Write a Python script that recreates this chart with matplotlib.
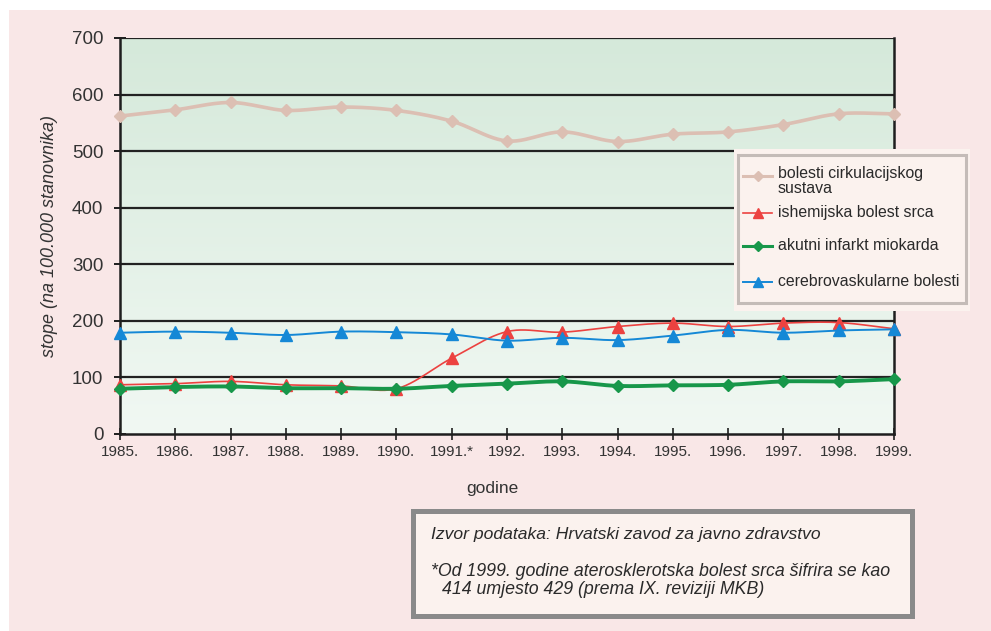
import numpy as np
import matplotlib
matplotlib.use("Agg")
import matplotlib.pyplot as plt
from matplotlib.patches import Rectangle
from matplotlib.lines import Line2D

# --- data -------------------------------------------------------------
years = ["1985.", "1986.", "1987.", "1988.", "1989.", "1990.", "1991.*",
         "1992.", "1993.", "1994.", "1995.", "1996.", "1997.", "1998.", "1999."]
circulatory = [562, 573, 586, 572, 578, 572, 553, 518, 534, 517, 530, 534, 547, 566, 566]
ischemic = [87, 89, 93, 87, 85, 80, 134, 181, 180, 190, 196, 190, 196, 197, 186]
acute_mi = [80, 83, 84, 81, 81, 80, 85, 89, 93, 85, 86, 87, 93, 93, 97]
cerebro = [179, 181, 179, 175, 181, 180, 176, 165, 170, 166, 174, 184, 179, 183, 185]

labels = ["bolesti cirkulacijskog\nsustava", "ishemijska bolest srca",
          "akutni infarkt miokarda", "cerebrovaskularne bolesti"]

W, H = 991, 631
FONT = "Liberation Sans"
plt.rcParams["font.family"] = [FONT, "DejaVu Sans"]


def smooth(x, y, n=24):
    """Catmull-Rom curve through the points (spreadsheet-style smoothed line)."""
    x = np.asarray(x, float)
    y = np.asarray(y, float)
    px = np.concatenate([[2 * x[0] - x[1]], x, [2 * x[-1] - x[-2]]])
    py = np.concatenate([[2 * y[0] - y[1]], y, [2 * y[-1] - y[-2]]])
    xs, ys = [], []
    t = np.linspace(0, 1, n, endpoint=False)
    for i in range(1, len(px) - 2):
        p0, p1, p2, p3 = (np.array([px[j], py[j]]) for j in range(i - 1, i + 3))
        tt = t[:, None]
        pts = 0.5 * ((2 * p1) + (-p0 + p2) * tt + (2 * p0 - 5 * p1 + 4 * p2 - p3) * tt ** 2
                     + (-p0 + 3 * p1 - 3 * p2 + p3) * tt ** 3)
        xs.extend(pts[:, 0])
        ys.extend(pts[:, 1])
    xs.append(x[-1])
    ys.append(y[-1])
    return np.array(xs), np.array(ys)


fig = plt.figure(figsize=(W / 100, H / 100), dpi=100)
fig.patch.set_facecolor("white")
fig.add_artist(Rectangle((9 / W, 0), 1 - 9 / W, 1 - 10 / H, transform=fig.transFigure,
                         facecolor="#f9e7e7", edgecolor="none", zorder=-10))

ax = fig.add_axes([120 / W, 1 - 434 / H, (894 - 120) / W, (434 - 38) / H])
ax.set_facecolor("none")

# green vertical gradient behind the plot
grad = np.linspace(0, 1, 256)[:, None]
top = np.array([0.835, 0.914, 0.855])
bot = np.array([0.945, 0.973, 0.953])
img = top[None, None, :] * (1 - grad[:, :, None]) + bot[None, None, :] * grad[:, :, None]
ax.imshow(img, extent=[0, 1, 0, 1], transform=ax.transAxes, aspect="auto",
          zorder=-5, interpolation="bilinear")

xpos = np.arange(len(years))
ax.set_xlim(0, len(years) - 1)
ax.set_ylim(0, 700)
ax.set_yticks(range(0, 701, 100))
ax.set_xticks(xpos)
ax.set_xticklabels(years)

for v in range(100, 701, 100):
    ax.axhline(v, color="#222222", lw=1.6, zorder=1)

series = [
    (circulatory, "#dcbfb3", 2.6, "D", 6.5),
    (ischemic, "#ec4240", 1.2, "^", 8.5),
    (acute_mi, "#17974a", 2.8, "D", 6.5),
    (cerebro, "#1588d6", 1.4, "^", 8.5),
]
for i, (vals, col, lw, mk, ms) in enumerate(series):
    sx, sy = smooth(xpos, vals)
    ax.plot(sx, sy, color=col, lw=lw, zorder=3 + i, solid_capstyle="round")
    ax.plot(xpos, vals, linestyle="none", marker=mk, ms=ms, color=col,
            markeredgecolor=col, zorder=3 + i, clip_on=False)

for side in ["left", "bottom", "right"]:
    ax.spines[side].set_color("#1e1e1e")
    ax.spines[side].set_linewidth(1.8)
ax.spines["top"].set_visible(False)

ax.tick_params(axis="y", direction="inout", length=8, width=1.4, color="#1e1e1e",
               labelsize=13.5, labelcolor="#333333", pad=8)
ax.tick_params(axis="x", direction="inout", length=8, width=1.2, color="#1e1e1e",
               labelsize=11, labelcolor="#333333", pad=4)

ax.set_ylabel("stope (na 100.000 stanovnika)", fontsize=13, style="italic",
              color="#333333", labelpad=10)
fig.text(492 / W, 1 - 489 / H, "godine", fontsize=12.5, color="#333333",
         ha="center", va="center")

# --- legend box ---------------------------------------------------------
def fx(px):
    return px / W


def fy(py):
    return 1 - py / H


fig.add_artist(Rectangle((fx(734), fy(311)), fx(970) - fx(734), fy(149) - fy(311),
                         transform=fig.transFigure, facecolor="#fbf2ee",
                         edgecolor="none", zorder=10))
fig.add_artist(Rectangle((fx(738), fy(303)), fx(966) - fx(738), fy(155) - fy(303),
                         transform=fig.transFigure, facecolor="none",
                         edgecolor="#c4bcb8", lw=2.2, zorder=11))

leg_y = [176, 213, 246, 282]
text_y = [181, 213, 246, 282]
for (vals, col, lw, mk, ms), lab, ly, ty in zip(series, labels, leg_y, text_y):
    fig.add_artist(Line2D([fx(743), fx(772)], [fy(ly), fy(ly)], color=col,
                          lw=min(lw, 2.2), transform=fig.transFigure, zorder=12))
    fig.add_artist(Line2D([fx(757.5)], [fy(ly)], marker=mk, ms=ms * 0.8, color=col,
                          linestyle="none", transform=fig.transFigure, zorder=12))
    fig.text(fx(778), fy(ty), lab, fontsize=11.4, color="#2a2a2a", ha="left",
             va="center", linespacing=1.0, zorder=12)

# --- source note box ----------------------------------------------------
fig.add_artist(Rectangle((fx(411), fy(619)), fx(915) - fx(411), fy(509) - fy(619),
                         transform=fig.transFigure, facecolor="#8a8a8a",
                         edgecolor="none", zorder=10))
fig.add_artist(Rectangle((fx(416), fy(614)), fx(910) - fx(416), fy(514) - fy(614),
                         transform=fig.transFigure, facecolor="#fbf2ee",
                         edgecolor="none", zorder=11))
fig.text(fx(431), fy(535), "Izvor podataka: Hrvatski zavod za javno zdravstvo",
         fontsize=12.6, style="italic", color="#2a2a2a", va="center", zorder=12)
fig.text(fx(431), fy(572), "*Od 1999. godine aterosklerotska bolest srca šifrira se kao",
         fontsize=12.8, style="italic", color="#2a2a2a", va="center", zorder=12)
fig.text(fx(442), fy(590), "414 umjesto 429 (prema IX. reviziji MKB)",
         fontsize=12.8, style="italic", color="#2a2a2a", va="center", zorder=12)

fig.savefig("out.png", dpi=100, facecolor=fig.get_facecolor())
